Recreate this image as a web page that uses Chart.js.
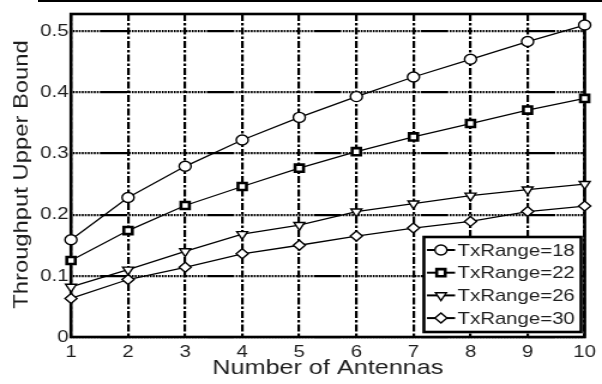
<!DOCTYPE html>
<html lang="en">
<head>
<meta charset="UTF-8">
<title>Throughput Upper Bound vs Number of Antennas</title>
<script src="https://cdn.jsdelivr.net/npm/chart.js"></script>
<style>
  html, body { margin: 0; padding: 0; background: #fff; overflow: hidden; }
  #topRule { position: absolute; left: 38px; top: 0; width: 564px; height: 2px; background: #000; }
  /* the plot is drawn a bit narrower and widened, like the printed figure */
  #wrap { position: absolute; left: 0; top: 0; width: 502px; height: 384px;
          transform: scaleX(1.1992); transform-origin: 0 0; }
</style>
</head>
<body>
<div id="topRule"></div>
<div id="wrap"><canvas id="chart"></canvas></div>
<script>
const antennas = [1, 2, 3, 4, 5, 6, 7, 8, 9, 10];
const xTicks = [1, 2, 3, 4, 5, 6, 7, 8, 9, 10];
const yTicks = [0, 0.1, 0.2, 0.3, 0.4, 0.5];
const yMax = 0.528;

const seriesNames = ['TxRange=18', 'TxRange=22', 'TxRange=26', 'TxRange=30'];
const tx18 = [0.159, 0.228, 0.279, 0.322, 0.359, 0.393, 0.425, 0.454, 0.483, 0.510];
const tx22 = [0.125, 0.174, 0.215, 0.246, 0.276, 0.303, 0.327, 0.349, 0.371, 0.390];
const tx26 = [0.082, 0.110, 0.140, 0.168, 0.183, 0.205, 0.218, 0.231, 0.241, 0.250];
const tx30 = [0.063, 0.094, 0.114, 0.136, 0.150, 0.165, 0.178, 0.189, 0.205, 0.214];

const xTitle = 'Number of Antennas';
const yTitle = 'Throughput Upper Bound';

const FONT = '"Liberation Sans", Arial, Helvetica, sans-serif';
const INK = '#1e1e1e';

// marker looks per series
const markers = [
  { pointStyle: 'circle',   radius: 5,   borderWidth: 1.4, rotation: 0 },
  { pointStyle: 'rect',     radius: 5,   borderWidth: 2.6, rotation: 0 },
  { pointStyle: 'triangle', radius: 5.2, borderWidth: 1.4, rotation: 180 },
  { pointStyle: 'rectRot',  radius: 5,   borderWidth: 1.4, rotation: 0 }
];

function toPoints(values) {
  return antennas.map((a, i) => ({ x: a, y: values[i] }));
}

const datasets = [tx18, tx22, tx26, tx30].map((vals, i) => ({
  label: seriesNames[i],
  data: toPoints(vals),
  borderColor: '#000',
  borderWidth: 1.3,
  backgroundColor: '#fff',
  pointBackgroundColor: '#fff',
  pointBorderColor: '#000',
  pointStyle: markers[i].pointStyle,
  pointRadius: markers[i].radius,
  pointBorderWidth: markers[i].borderWidth,
  pointRotation: markers[i].rotation,
  tension: 0,
  clip: false
}));

// dotted horizontal grid with a heavy dash every so often
const hDash = [];
for (let i = 0; i < 26; i++) hDash.push(1.6, 0.9);
hDash.push(23, 1.2);

function drawMarker(ctx, m, x, y) {
  ctx.fillStyle = '#fff';
  ctx.strokeStyle = '#000';
  ctx.lineWidth = m.borderWidth;
  Chart.helpers.drawPoint(ctx, m, x, y);
}

const framePlugin = {
  id: 'frame',
  beforeDatasetsDraw(chart) {
    const { ctx, chartArea: a } = chart;
    ctx.save();
    ctx.strokeStyle = '#000';
    ctx.lineWidth = 2.6;
    ctx.strokeRect(a.left, a.top, a.right - a.left, a.bottom - a.top);
    ctx.restore();
  }
};

const legendPlugin = {
  id: 'boxLegend',
  afterDatasetsDraw(chart) {
    const ctx = chart.ctx;
    const box = { left: 353.5, top: 237, right: 484.5, bottom: 332 };
    const rowY = [250, 272.7, 295.4, 318.1];
    ctx.save();
    ctx.fillStyle = '#fff';
    ctx.fillRect(box.left, box.top, box.right - box.left, box.bottom - box.top);
    ctx.strokeStyle = '#000';
    ctx.lineWidth = 2.6;
    ctx.strokeRect(box.left, box.top, box.right - box.left, box.bottom - box.top);
    chart.data.datasets.forEach((ds, i) => {
      const y = rowY[i];
      ctx.strokeStyle = '#000';
      ctx.lineWidth = 2;
      ctx.beginPath();
      ctx.moveTo(356, y);
      ctx.lineTo(379.5, y);
      ctx.stroke();
      drawMarker(ctx, markers[i], 367.7, y);
      ctx.fillStyle = INK;
      ctx.font = '17px ' + FONT;
      ctx.textAlign = 'left';
      ctx.textBaseline = 'middle';
      ctx.fillText(ds.label, 381.5, y + 1);
    });
    ctx.restore();
  }
};

const yTitlePlugin = {
  id: 'yTitle',
  afterDraw(chart) {
    const ctx = chart.ctx;
    const a = chart.chartArea;
    ctx.save();
    ctx.translate(18.3, (a.top + a.bottom) / 2 - 1);
    ctx.rotate(-Math.PI / 2);
    ctx.scale(1.19, 0.84);
    ctx.font = '20px ' + FONT;
    ctx.fillStyle = INK;
    ctx.textAlign = 'center';
    ctx.textBaseline = 'middle';
    ctx.fillText(yTitle, 0, 0);
    ctx.restore();
  }
};

new Chart(document.getElementById('chart'), {
  type: 'line',
  data: { datasets },
  plugins: [framePlugin, legendPlugin, yTitlePlugin],
  options: {
    responsive: true,
    maintainAspectRatio: false,
    animation: false,
    layout: { autoPadding: false, padding: { left: 0, right: 9.2, top: 14, bottom: 0 } },
    plugins: { legend: { display: false }, tooltip: { enabled: false } },
    elements: { line: { fill: false } },
    scales: {
      x: {
        type: 'linear',
        min: 1,
        max: 10,
        afterBuildTicks: s => { s.ticks = xTicks.map(v => ({ value: v })); },
        afterFit: s => { s.height = 47; },
        grid: { color: '#000', lineWidth: 2.2, drawTicks: false },
        border: { display: false, dash: [7, 2, 2.5, 2] },
        ticks: {
          color: INK,
          padding: 5,
          maxRotation: 0,
          autoSkip: false,
          font: { family: FONT, size: 17 }
        },
        title: {
          display: true,
          text: xTitle,
          color: INK,
          padding: { top: 0, bottom: 3 },
          font: { family: FONT, size: 21 }
        }
      },
      y: {
        type: 'linear',
        min: 0,
        max: yMax,
        afterBuildTicks: s => { s.ticks = yTicks.map(v => ({ value: v })); },
        afterFit: s => { s.width = 59.2; },
        grid: { color: '#000', lineWidth: 2.2, drawTicks: false },
        border: { display: false, dash: hDash, dashOffset: 40.8 },
        ticks: {
          color: INK,
          padding: 2,
          font: { family: FONT, size: 17 },
          callback: v => String(v)
        }
      }
    }
  }
});
</script>
</body>
</html>
